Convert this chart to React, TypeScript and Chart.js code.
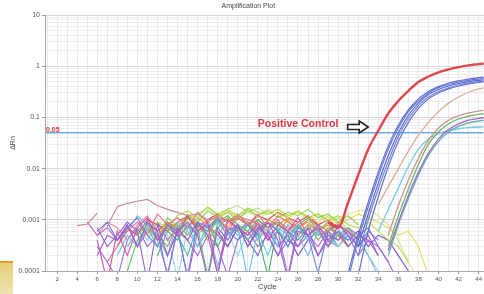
import { useEffect, useRef } from 'react';
import { Chart, registerables } from 'chart.js';

Chart.register(...registerables);
Chart.defaults.font.family = '"Liberation Sans", Arial, sans-serif';

// ---------- axes ----------
const cycleMin = 0.8;
const cycleMax = 44.5;
const xTickLabels = [2, 4, 6, 8, 10, 12, 14, 16, 18, 20, 22, 24, 26, 28, 30, 32, 34, 36, 38, 40, 42, 44];
const yMajorTicks = [0.0001, 0.001, 0.01, 0.1, 1, 10];
const yTickLabels = ['0.0001', '0.001', '0.01', '0.1', '1', '10'];
const titleText = 'Amplification Plot';
const xTitle = 'Cycle';
const yTitle = 'ΔRn';

// ---------- threshold & annotation ----------
const threshold = 0.05;
const thresholdLabel = '0.05';
const annotationText = 'Positive Control';
const annotationCycle = 22;
const annotationValue = 0.074;
const arrowCycleStart = 30.95;
const arrowCycleHead = 32.1;
const arrowCycleEnd = 33.0;
const arrowValue = 0.065;

// ---------- amplification curves (start cycle, values per cycle) ----------
const ampRedStart = 29;
const ampRed = [0.0009, 0.0007, 0.0022, 0.0075, 0.024, 0.055, 0.12, 0.21, 0.33, 0.49, 0.63, 0.76, 0.87, 0.96, 1.04, 1.1, 1.16];
const ampBlue1Start = 31;
const ampBlue1 = [0.00009, 0.0005, 0.0022, 0.0085, 0.028, 0.07, 0.14, 0.23, 0.32, 0.4, 0.47, 0.52, 0.56, 0.6, 0.62];
const ampBlue2Start = 31;
const ampBlue2 = [0.00007, 0.0004, 0.0018, 0.007, 0.024, 0.062, 0.13, 0.21, 0.3, 0.38, 0.44, 0.49, 0.53, 0.56, 0.58];
const ampBlue3Start = 32;
const ampBlue3 = [0.0003, 0.0013, 0.0052, 0.018, 0.05, 0.11, 0.19, 0.28, 0.35, 0.41, 0.46, 0.5, 0.53, 0.55];
const ampBlue4Start = 32;
const ampBlue4 = [0.0002, 0.001, 0.004, 0.014, 0.042, 0.095, 0.17, 0.25, 0.32, 0.38, 0.43, 0.47, 0.5, 0.52];
const ampBlue5Start = 32;
const ampBlue5 = [0.00008, 0.0006, 0.0028, 0.011, 0.034, 0.08, 0.15, 0.23, 0.3, 0.36, 0.41, 0.45, 0.48, 0.5];
const ampTanStart = 34;
const ampTan = [0.002, 0.0045, 0.01, 0.022, 0.045, 0.08, 0.13, 0.19, 0.25, 0.31, 0.36, 0.39];
const ampRoseStart = 35;
const ampRose = [0.0005, 0.0019, 0.006, 0.016, 0.036, 0.062, 0.088, 0.108, 0.123, 0.133, 0.14];
const ampGreenStart = 35;
const ampGreen = [0.0003, 0.0012, 0.004, 0.012, 0.03, 0.052, 0.075, 0.093, 0.106, 0.115, 0.12];
const ampPurpleStart = 35;
const ampPurple = [0.00025, 0.0009, 0.003, 0.0085, 0.02, 0.038, 0.058, 0.075, 0.088, 0.096, 0.1];
const ampTealStart = 35;
const ampTeal = [0.0002, 0.0008, 0.0026, 0.0075, 0.018, 0.034, 0.052, 0.067, 0.078, 0.085, 0.089];
const ampCyanStart = 34;
const ampCyan = [0.0006, 0.0016, 0.0042, 0.011, 0.024, 0.038, 0.048, 0.055, 0.06, 0.063, 0.065, 0.066];

// ---------- background (non-amplified) traces ----------
const n01 = [0.00077, 0.00082, 0.00135];
const n02 = [0.00075, 0.0018, 0.0021, 0.0023, 0.0025, 0.0019, 0.0016, 0.0014, 0.0012, 0.0013, 0.001, 0.0011, 0.0009, 0.0012, 0.001, 0.0008, 0.0009];
const n03 = [0.0007, 0.0003, 0.0005, 0.0009, 0.0006, 0.00006, 0.0008, 0.0002, 0.0006, 0.0009, 0.0005, 0.00007, 0.0007, 0.0004, 0.0008, 0.0003, 0.0006, 0.0009, 0.0004, 0.00007, 0.0006, 0.0005, 0.0008, 0.0004, 0.0006, 0.0003, 0.0005, 0.0007, 0.0003, 0.00015];
const n04 = [0.0002, 0.0005, 0.0004, 0.0008, 0.0003, 0.0009, 0.0006, 0.00008, 0.0007, 0.0004, 0.0009, 0.0005, 0.00009, 0.0006, 0.0008, 0.0003, 0.0007, 0.0005, 0.0002, 0.0006, 0.0003, 0.0007, 0.0002, 0.0005, 0.0004, 0.0006, 0.0003, 0.0005, 0.0002];
const n05 = [0.0004, 0.00006, 0.0006, 0.0002, 0.0007, 0.0011, 0.0004, 0.0008, 0.0005, 0.0012, 0.0006, 0.0009, 0.00008, 0.001, 0.0007, 0.0005, 0.0009, 0.0004, 0.0008, 0.0006, 0.0011, 0.0005, 0.0007, 0.0003, 0.0008, 0.0006, 0.0004];
const n06 = [0.00015, 0.0003, 0.0006, 0.0009, 0.0005, 0.0013, 0.0008, 0.0011, 0.0007, 0.0014, 0.0009, 0.0012, 0.0006, 0.0011, 0.0008, 0.0013, 0.0007, 0.001, 0.0006, 0.0009, 0.0012, 0.0007, 0.0005];
const n07 = [0.0006, 0.0009, 0.0004, 0.0007, 0.0011, 0.0005, 0.0003, 0.0008, 0.0006, 0.00008, 0.0009, 0.0007, 0.0011, 0.0006, 0.0004, 0.0008, 0.0005, 0.0009, 0.0006, 0.0003, 0.0007, 0.0005, 0.00009, 0.0006, 0.0008, 0.0005, 0.0003, 0.0006, 0.0004];
const n08 = [0.0004, 0.0006, 0.0012, 0.0008, 0.0005, 0.0002, 0.0009, 0.0006, 0.0003, 0.0008, 0.00012, 0.0007, 0.0005, 0.0009, 0.0004, 0.0007, 0.0003, 0.0008, 0.0005, 0.0002, 0.0006, 0.0004, 0.0007, 0.0003, 0.0005, 0.0002, 0.00008];
const n09 = [0.0002, 0.0005, 0.0003, 0.0007, 0.0004, 0.00009, 0.0006, 0.0008, 0.0003, 0.0006, 0.0009, 0.0005, 0.0007, 0.00007, 0.0006, 0.0002, 0.0007, 0.0005, 0.0008, 0.0004, 0.0006, 0.0003, 0.0005];
const n10 = [0.0003, 0.0006, 0.0009, 0.0004, 0.0007, 0.0005, 0.0002, 0.0008, 0.0006, 0.001, 0.0005, 0.0008, 0.0004, 0.0007, 0.0009, 0.0006, 0.0004, 0.0008, 0.0005, 0.0007, 0.0003, 0.0006, 0.0004];
const n11 = [0.0001, 0.0004, 0.0007, 0.0003, 0.0009, 0.0006, 0.0011, 0.0007, 0.00008, 0.0009, 0.0012, 0.0008, 0.0006, 0.001, 0.0007, 0.0009, 0.0005, 0.0008, 0.0011, 0.0006, 0.0009, 0.0005, 0.0007, 0.0004];
const n12 = [0.0005, 0.0008, 0.0004, 0.0011, 0.0007, 0.0013, 0.0009, 0.0015, 0.0011, 0.0014, 0.001, 0.0016, 0.0012, 0.0015, 0.0011, 0.0014, 0.0012, 0.0016, 0.0011, 0.0013, 0.0009, 0.0012, 0.0008];
const n13 = [0.0006, 0.0009, 0.0007, 0.0012, 0.0015, 0.0011, 0.0018, 0.0013, 0.0016, 0.0012, 0.0017, 0.0014, 0.0013, 0.0016, 0.0012, 0.0015, 0.0011, 0.0013, 0.001, 0.0012, 0.0008, 0.0007, 0.0009, 0.0006, 0.0004, 0.0003, 0.00015];
const n14 = [0.0004, 0.0007, 0.0005, 0.001, 0.0013, 0.0009, 0.0012, 0.0015, 0.0011, 0.0014, 0.0012, 0.0016, 0.0013, 0.0011, 0.0014, 0.0012, 0.0009, 0.0012, 0.0008, 0.001, 0.0013, 0.0011, 0.0009, 0.0007, 0.0005, 0.0006, 0.0003, 0.00008];
const n15 = [0.0006, 0.0009, 0.0012, 0.0008, 0.0011, 0.0014, 0.0012, 0.0015, 0.0011, 0.0013, 0.0016, 0.0012, 0.0014, 0.001, 0.0012, 0.0009, 0.0011, 0.0013, 0.0015, 0.0016, 0.0012, 0.0008, 0.0004, 0.00015, 0.00007];
const n16 = [0.0003, 0.0007, 0.0005, 0.0009, 0.0006, 0.0011, 0.0008, 0.0005, 0.001, 0.0007, 0.0012, 0.0009, 0.0006, 0.001, 0.0008, 0.0011, 0.0007, 0.0009, 0.0006, 0.0008, 0.0005, 0.0003];
const n17 = [0.0008, 0.0006, 0.0009, 0.0007, 0.0012, 0.0008, 0.0006, 0.0011, 0.0009, 0.0013, 0.0008, 0.001, 0.0007, 0.0012, 0.0009, 0.0007, 0.001, 0.0008, 0.0006, 0.0009, 0.0005];
const n18 = [0.0003, 0.0007, 0.0005, 0.001, 0.0008, 0.0006, 0.0009, 0.0012, 0.0007, 0.001, 0.0013, 0.0009, 0.0011, 0.0008, 0.0012, 0.001, 0.0014, 0.0011, 0.0009, 0.0012, 0.0008, 0.001, 0.0007];
const n19 = [0.0005, 0.0003, 0.0008, 0.0005, 0.0009, 0.0004, 0.0007, 0.0011, 0.0006, 0.0008, 0.0004, 0.0009, 0.0006, 0.001, 0.0005, 0.0008, 0.0004, 0.0007, 0.0005, 0.0003];
const n20 = [0.0008, 0.0011, 0.0007, 0.0013, 0.0017, 0.0012, 0.0016, 0.0019, 0.0014, 0.0017, 0.0013, 0.0016, 0.0012, 0.0015, 0.0011, 0.0013, 0.0009, 0.0011, 0.0006, 0.0004, 0.0002];
const n21 = [0.0006, 0.0003, 0.0007, 0.0004, 0.0002, 0.0006, 0.0003, 0.0005, 0.0002, 0.0004, 0.0006, 0.0003, 0.0005, 0.0004, 0.0006, 0.0003, 0.0005, 0.0004, 0.0002, 0.0001];
const n22 = [0.0009, 0.0005, 0.0007, 0.0004, 0.0008, 0.0003, 0.0006, 0.0009, 0.0004, 0.0007, 0.00007, 0.0006, 0.0008, 0.0005, 0.0003, 0.0007, 0.0005, 0.0008, 0.0004, 0.0006, 0.00008, 0.0008, 0.0005, 0.0003, 0.0006, 0.0004, 0.0007, 0.0005, 0.0004, 0.0002];
const n23 = [0.0007, 0.0004, 0.0009, 0.0005, 0.00007, 0.0007, 0.0005, 0.0009, 0.0004, 0.0006, 0.0002, 0.0006, 0.0008, 0.0005, 0.0007, 0.0003, 0.0006, 0.0004, 0.0007, 0.0005, 0.0003, 0.0006, 0.0004, 0.0002, 0.0001];
const n24 = [0.0002, 0.0006, 0.0004, 0.0008, 0.0005, 0.0009, 0.0003, 0.0007, 0.0006, 0.0009, 0.0005, 0.00008, 0.0008, 0.0006, 0.0004, 0.0007, 0.0005, 0.0006, 0.0003];
const n25 = [0.0005, 0.0009, 0.0007, 0.0004, 0.0008, 0.0012, 0.0006, 0.0009, 0.0005, 0.0007, 0.0011, 0.0008, 0.0005, 0.0009, 0.0007, 0.0004, 0.0008, 0.0006, 0.0009, 0.0007, 0.0005, 0.0008, 0.0006, 0.0004];
const n26 = [0.0003, 0.00015, 0.00007, 0.0004, 0.0007, 0.0003, 0.0005, 0.0002, 0.0006, 0.0004, 0.0002, 0.0005, 0.0003, 0.00008, 0.0004, 0.0006, 0.0003, 0.0005, 0.0002, 0.0004, 0.0003, 0.0005, 0.0002, 0.0004, 0.0003, 0.0005, 0.0002, 0.0004, 0.0003, 0.00015, 0.00006];

type Trace = { start: number; values: number[]; color: string; width: number; smooth?: boolean };

const ampTraces: Trace[] = [
  { start: ampRedStart, values: ampRed, color: '#e0464b', width: 2.4, smooth: true },
  { start: ampBlue1Start, values: ampBlue1, color: '#5d6fd4', width: 1.2, smooth: true },
  { start: ampBlue2Start, values: ampBlue2, color: '#6878d8', width: 1.2, smooth: true },
  { start: ampBlue3Start, values: ampBlue3, color: '#5565cc', width: 1.2, smooth: true },
  { start: ampBlue4Start, values: ampBlue4, color: '#7080dc', width: 1.2, smooth: true },
  { start: ampBlue5Start, values: ampBlue5, color: '#6070d0', width: 1.2, smooth: true },
  { start: ampTanStart, values: ampTan, color: '#dcae98', width: 1.3, smooth: true },
  { start: ampRoseStart, values: ampRose, color: '#c9958f', width: 1.3, smooth: true },
  { start: ampGreenStart, values: ampGreen, color: '#6cb86c', width: 1.3, smooth: true },
  { start: ampPurpleStart, values: ampPurple, color: '#a865c4', width: 1.3, smooth: true },
  { start: ampTealStart, values: ampTeal, color: '#5ab5a8', width: 1.3, smooth: true },
  { start: ampCyanStart, values: ampCyan, color: '#76cae0', width: 1.3, smooth: true },
];

const noiseTraces: Trace[] = [
  { start: 4, values: n01, color: '#c98a98', width: 1.2 },
  { start: 7, values: n02, color: '#c98a98', width: 1.2 },
  { start: 6, values: n03, color: '#8f63d6', width: 1.1 },
  { start: 6, values: n04, color: '#a05ad0', width: 1.1 },
  { start: 6, values: n05, color: '#d24fa8', width: 1.1 },
  { start: 7, values: n06, color: '#e86f9a', width: 1.1 },
  { start: 6, values: n07, color: '#6a7ee0', width: 1.1 },
  { start: 8, values: n08, color: '#7fb4ea', width: 1.1 },
  { start: 8, values: n09, color: '#5cc8df', width: 1.1 },
  { start: 9, values: n10, color: '#4db6a0', width: 1.1 },
  { start: 9, values: n11, color: '#5cbf5c', width: 1.1 },
  { start: 10, values: n12, color: '#8fd14f', width: 1.1 },
  { start: 11, values: n13, color: '#b9d94a', width: 1.1 },
  { start: 12, values: n14, color: '#dedc5a', width: 1.1 },
  { start: 14, values: n15, color: '#e3e08a', width: 1.1 },
  { start: 10, values: n16, color: '#f0902e', width: 1.1 },
  { start: 11, values: n17, color: '#e86a3a', width: 1.1 },
  { start: 8, values: n18, color: '#d9434a', width: 1.1 },
  { start: 12, values: n19, color: '#a7a84a', width: 1.1 },
  { start: 13, values: n20, color: '#a7e08c', width: 1.1 },
  { start: 18, values: n21, color: '#7b55c8', width: 1.1 },
  { start: 5, values: n22, color: '#c460c9', width: 1.1 },
  { start: 10, values: n23, color: '#8ad6ea', width: 1.1 },
  { start: 12, values: n24, color: '#3fae6a', width: 1.1 },
  { start: 6, values: n25, color: '#e3889b', width: 1.1 },
  { start: 6, values: n26, color: '#9a6ad8', width: 1.1 },
];

const toPoints = (start: number, values: number[]) => values.map((v, i) => ({ x: start + i, y: v }));

const lineDs = (t: Trace) => ({
  data: toPoints(t.start, t.values),
  borderColor: t.color,
  borderWidth: t.width,
  pointRadius: 0,
  tension: t.smooth ? 0.4 : 0,
  cubicInterpolationMode: t.smooth ? 'monotone' : 'default',
  fill: false,
});

const FONT = '"Liberation Sans", Arial, sans-serif';

const decorPlugin = {
  id: 'decor',
  afterDatasetsDraw(chart: any) {
    const { ctx, chartArea, scales } = chart;
    const x = scales.x;
    const y = scales.y;
    const cx = (chartArea.left + chartArea.right) / 2;
    ctx.save();
    // title
    ctx.fillStyle = '#444';
    ctx.font = `7px ${FONT}`;
    ctx.textAlign = 'center';
    ctx.textBaseline = 'middle';
    ctx.fillText(titleText, cx - 16, chartArea.top - 9);
    // x title
    ctx.font = `7.5px ${FONT}`;
    ctx.fillText(xTitle, cx + 3, chartArea.bottom + 16);
    // y title
    ctx.save();
    ctx.translate(13, (chartArea.top + chartArea.bottom) / 2);
    ctx.rotate(-Math.PI / 2);
    ctx.font = `7px ${FONT}`;
    ctx.fillText(yTitle, 0, 0);
    ctx.restore();
    // threshold label
    const ty = y.getPixelForValue(threshold);
    ctx.font = `bold 7px ${FONT}`;
    ctx.fillStyle = '#d8353b';
    ctx.textAlign = 'left';
    ctx.fillText(thresholdLabel, chartArea.left + 1, ty - 3);
    // annotation
    ctx.font = `bold 10.5px ${FONT}`;
    ctx.fillStyle = '#e0393e';
    ctx.fillText(annotationText, x.getPixelForValue(annotationCycle), y.getPixelForValue(annotationValue));
    // arrow
    const ax0 = x.getPixelForValue(arrowCycleStart);
    const ax1 = x.getPixelForValue(arrowCycleHead);
    const ax2 = x.getPixelForValue(arrowCycleEnd);
    const ay = y.getPixelForValue(arrowValue);
    ctx.beginPath();
    ctx.moveTo(ax0, ay - 2.5);
    ctx.lineTo(ax1, ay - 2.5);
    ctx.lineTo(ax1, ay - 6);
    ctx.lineTo(ax2, ay);
    ctx.lineTo(ax1, ay + 6);
    ctx.lineTo(ax1, ay + 2.5);
    ctx.lineTo(ax0, ay + 2.5);
    ctx.closePath();
    ctx.fillStyle = '#ffffff';
    ctx.fill();
    ctx.lineWidth = 1.6;
    ctx.strokeStyle = '#222';
    ctx.stroke();
    ctx.restore();
  },
};

const xGridCycles = Array.from({ length: 44 }, (_, i) => i + 1);
const yAllTicks = yMajorTicks.flatMap((m, i) =>
  i === yMajorTicks.length - 1 ? [m] : [m, 2 * m, 3 * m, 4 * m, 5 * m, 6 * m, 7 * m, 8 * m, 9 * m]
);

export default function App() {
  const ref = useRef<HTMLCanvasElement>(null);
  useEffect(() => {
    document.body.style.margin = '0';
    const datasets: any[] = [
      ...ampTraces.map(lineDs),
      {
        data: [
          { x: cycleMin, y: threshold },
          { x: cycleMax, y: threshold },
        ],
        borderColor: '#72a9dc',
        borderWidth: 1.6,
        pointRadius: 0,
        fill: false,
      },
      ...noiseTraces.map(lineDs),
    ];
    const chart = new Chart(ref.current!, {
      type: 'line',
      data: { datasets },
      plugins: [decorPlugin],
      options: {
        animation: false,
        responsive: false,
        devicePixelRatio: 1,
        layout: { padding: { top: 15, left: 0, right: 0, bottom: 0 } },
        plugins: { legend: { display: false }, title: { display: false }, tooltip: { enabled: false } },
        scales: {
          x: {
            type: 'linear',
            min: cycleMin,
            max: cycleMax,
            afterBuildTicks: (s: any) => {
              s.ticks = xGridCycles.map((v) => ({ value: v }));
            },
            afterFit: (s: any) => {
              s.height = 23;
            },
            ticks: {
              autoSkip: false,
              maxRotation: 0,
              padding: 2,
              font: { size: 6 },
              color: '#555',
              callback: (v: any) => (xTickLabels.includes(v) ? String(v) : ''),
            },
            grid: {
              color: '#e9e9e9',
              tickLength: 3,
              tickColor: (c: any) => (c.tick && xTickLabels.includes(c.tick.value) ? '#999' : 'rgba(0,0,0,0)'),
            },
            border: { color: '#a8a8a8' },
          },
          y: {
            type: 'logarithmic',
            min: 0.0001,
            max: 10,
            afterBuildTicks: (s: any) => {
              s.ticks = yAllTicks.map((v) => ({ value: v }));
            },
            afterFit: (s: any) => {
              s.width = 45;
            },
            ticks: {
              autoSkip: false,
              padding: 2,
              font: { size: 7 },
              color: '#555',
              callback: (v: any) => {
                const i = yMajorTicks.indexOf(v);
                return i >= 0 ? yTickLabels[i] : '';
              },
            },
            grid: {
              color: (c: any) => (c.tick && yMajorTicks.includes(c.tick.value) ? '#d6d6d6' : '#ededed'),
              tickLength: 3,
              tickColor: (c: any) => (c.tick && yMajorTicks.includes(c.tick.value) ? '#999' : 'rgba(0,0,0,0)'),
            },
            border: { color: '#a8a8a8' },
          },
        },
      },
    });
    return () => chart.destroy();
  }, []);
  return (
    <div style={{ position: 'relative', width: 484, height: 294, background: '#fff', overflow: 'hidden' }}>
      <canvas ref={ref} width={484} height={294} style={{ display: 'block' }} />
      <div
        style={{
          position: 'absolute',
          left: 0,
          top: 261,
          width: 13,
          height: 33,
          background: 'linear-gradient(#e6cf78, #efe4b6)',
          borderTop: '2px solid #e39a2a',
        }}
      />
    </div>
  );
}
